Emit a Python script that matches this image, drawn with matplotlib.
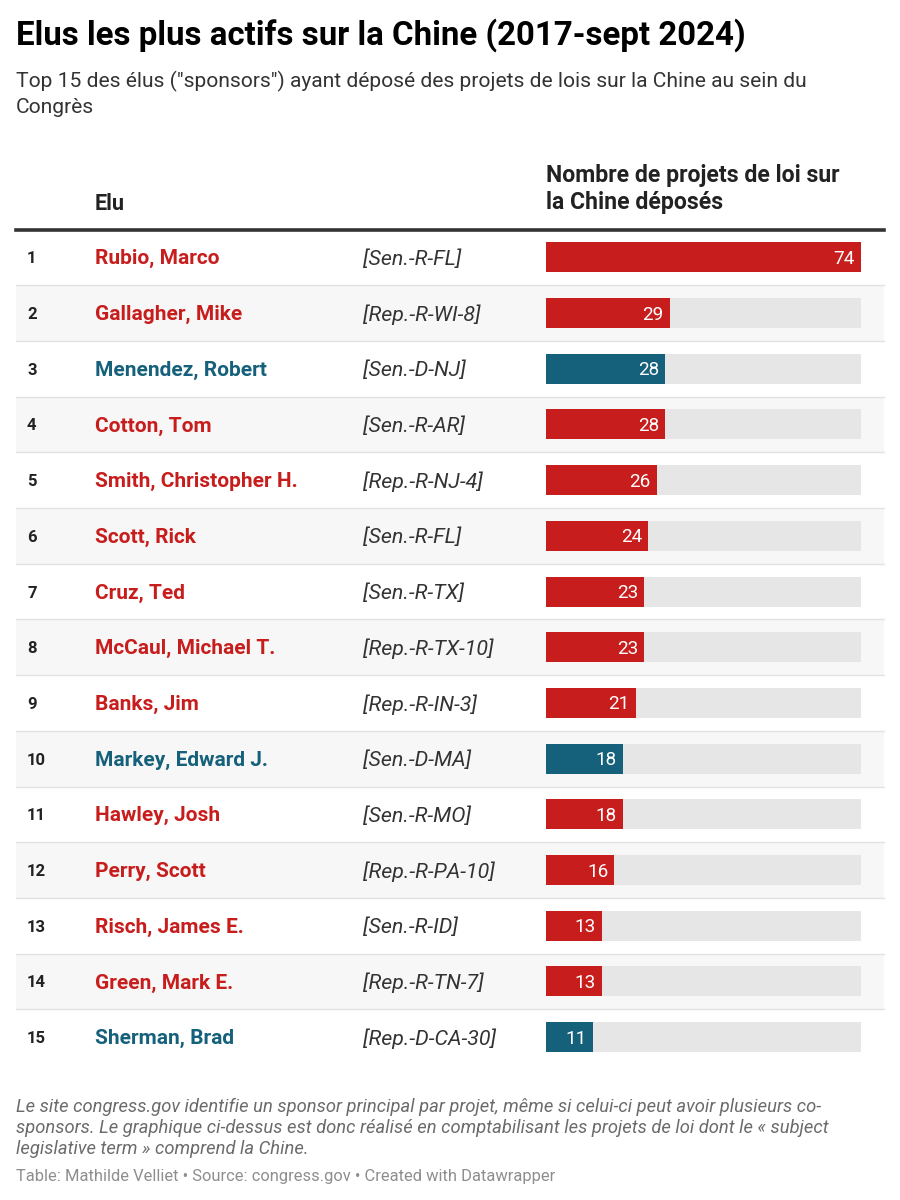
import matplotlib
matplotlib.use("Agg")
import matplotlib.pyplot as plt

plt.rcParams['font.family'] = ['Roboto', 'DejaVu Sans']

# ---- data ----
ranks = list(range(1, 16))
names = ["Rubio, Marco", "Gallagher, Mike", "Menendez, Robert", "Cotton, Tom",
         "Smith, Christopher H.", "Scott, Rick", "Cruz, Ted", "McCaul, Michael T.",
         "Banks, Jim", "Markey, Edward J.", "Hawley, Josh", "Perry, Scott",
         "Risch, James E.", "Green, Mark E.", "Sherman, Brad"]
parties = ["[Sen.-R-FL]", "[Rep.-R-WI-8]", "[Sen.-D-NJ]", "[Sen.-R-AR]",
           "[Rep.-R-NJ-4]", "[Sen.-R-FL]", "[Sen.-R-TX]", "[Rep.-R-TX-10]",
           "[Rep.-R-IN-3]", "[Sen.-D-MA]", "[Sen.-R-MO]", "[Rep.-R-PA-10]",
           "[Sen.-R-ID]", "[Rep.-R-TN-7]", "[Rep.-D-CA-30]"]
counts = [74, 29, 28, 28, 26, 24, 23, 23, 21, 18, 18, 16, 13, 13, 11]

title = "Elus les plus actifs sur la Chine (2017-sept 2024)"
subtitle = ["Top 15 des élus (\"sponsors\") ayant déposé des projets de lois sur la Chine au sein du",
            "Congrès"]
col_name = "Elu"
col_bar = ["Nombre de projets de loi sur", "la Chine déposés"]
notes = ["Le site congress.gov identifie un sponsor principal par projet, même si celui-ci peut avoir plusieurs co-",
         "sponsors. Le graphique ci-dessus est donc réalisé en comptabilisant les projets de loi dont le « subject",
         "legislative term » comprend la Chine."]
byline = "Table: Mathilde Velliet • Source: congress.gov • Created with Datawrapper"

RED = "#c71e1d"
BLUE = "#15607a"
colors = [BLUE if "-D-" in p else RED for p in parties]

W, H = 900, 1200
fig = plt.figure(figsize=(9, 12), dpi=100)
fig.patch.set_facecolor("white")

# full figure overlay in pixel coords
ax = fig.add_axes([0, 0, 1, 1])
ax.set_xlim(0, W)
ax.set_ylim(H, 0)
ax.axis("off")

ax.text(16, 45, title, fontsize=23.8, fontweight="bold", color="#000000", va="baseline")
for i, line in enumerate(subtitle):
    ax.text(16, 87.5 + i * 25.3, line, fontsize=15.1, color="#333333", va="baseline")

ax.text(95, 209.5, col_name, fontsize=15.6, fontweight="bold", color="#222222", va="baseline")
for i, line in enumerate(col_bar):
    ax.text(546, 182 + i * 27.5, line, fontsize=16.6, fontweight="bold", color="#222222", va="baseline")

for i, line in enumerate(notes):
    ax.text(16, 1112 + i * 21, line, fontsize=13.2, style="italic", color="#6b6b6b", va="baseline")
ax.text(16, 1181, byline, fontsize=11.9, color="#8e8e8e", va="baseline")

# table rows
top, row_h = 229.5, 55.7
n = len(names)
bottom = top + row_h * n
tx = fig.add_axes([0, 1 - bottom / H, 1, (bottom - top) / H])
tx.set_xlim(0, W)
tx.set_ylim(n, 0)
tx.axis("off")

shift = 1.5 / row_h  # text sits a touch below row centre
for i in range(n):
    if i % 2 == 1:
        tx.axhspan(i, i + 1, xmin=16 / W, xmax=884 / W, color="#f7f7f7", lw=0, zorder=0)
    if i > 0:
        tx.axhline(i, xmin=16 / W, xmax=884 / W, color="#e2e2e2", lw=1, zorder=1)
    y = i + 0.5 + shift
    tx.text(27, y, str(ranks[i]), fontsize=12, fontweight="bold", color="#222222", va="center")
    tx.text(95, y, names[i], fontsize=15, fontweight="bold", color=colors[i], va="center")
    tx.text(363, y, parties[i], fontsize=15.4, style="italic", color="#333333", va="center")

ax.axhline(top, xmin=16 / W, xmax=884 / W, color="#333333", lw=2.6)

# bars
bx = fig.add_axes([546.3 / W, 1 - bottom / H, (860.7 - 546.3) / W, (bottom - top) / H])
bx.set_xlim(0, max(counts))
bx.set_ylim(n - 0.5, -0.5)
bx.axis("off")
bx.patch.set_alpha(0)
ypos = list(range(n))
bx.barh(ypos, [max(counts)] * n, height=0.54, color="#e6e6e6", lw=0)
bx.barh(ypos, counts, height=0.54, color=colors, lw=0)
for yv, v in zip(ypos, counts):
    bx.text(v - 1.4, yv + shift, str(v), fontsize=13.6, color="white", ha="right", va="center")

fig.savefig("out.png", dpi=100, facecolor="white")
